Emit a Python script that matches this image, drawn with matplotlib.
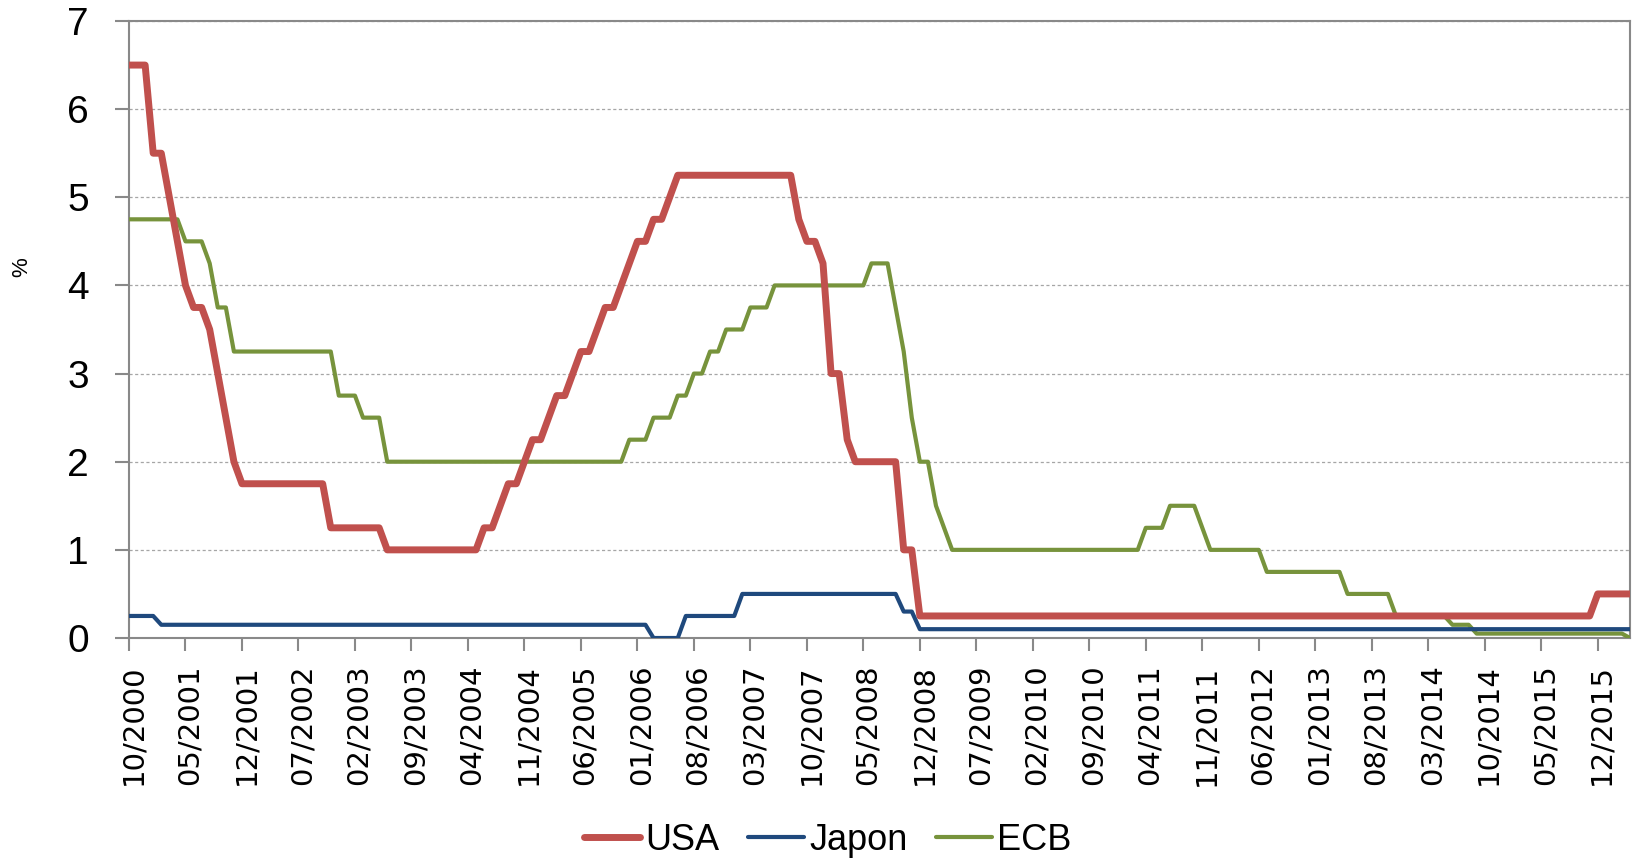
import numpy as np
import pandas as pd
import matplotlib
matplotlib.use('Agg')
import matplotlib.pyplot as plt
import matplotlib.transforms as mtransforms

# monthly policy rates, 10/2000 .. 04/2016 (end of month)
usa = [6.5, 6.5, 6.5,                                                   # 2000
       5.5, 5.5, 5.0, 4.5, 4.0, 3.75, 3.75, 3.5, 3.0, 2.5, 2.0, 1.75,   # 2001
       1.75, 1.75, 1.75, 1.75, 1.75, 1.75, 1.75, 1.75, 1.75, 1.75, 1.25, 1.25,  # 2002
       1.25, 1.25, 1.25, 1.25, 1.25, 1.0, 1.0, 1.0, 1.0, 1.0, 1.0, 1.0,  # 2003
       1.0, 1.0, 1.0, 1.0, 1.0, 1.25, 1.25, 1.5, 1.75, 1.75, 2.0, 2.25,  # 2004
       2.25, 2.5, 2.75, 2.75, 3.0, 3.25, 3.25, 3.5, 3.75, 3.75, 4.0, 4.25,  # 2005
       4.5, 4.5, 4.75, 4.75, 5.0, 5.25, 5.25, 5.25, 5.25, 5.25, 5.25, 5.25,  # 2006
       5.25, 5.25, 5.25, 5.25, 5.25, 5.25, 5.25, 5.25, 4.75, 4.5, 4.5, 4.25,  # 2007
       3.0, 3.0, 2.25, 2.0, 2.0, 2.0, 2.0, 2.0, 2.0, 1.0, 1.0, 0.25,    # 2008
       0.25, 0.25, 0.25, 0.25, 0.25, 0.25, 0.25, 0.25, 0.25, 0.25, 0.25, 0.25,  # 2009
       0.25, 0.25, 0.25, 0.25, 0.25, 0.25, 0.25, 0.25, 0.25, 0.25, 0.25, 0.25,  # 2010
       0.25, 0.25, 0.25, 0.25, 0.25, 0.25, 0.25, 0.25, 0.25, 0.25, 0.25, 0.25,  # 2011
       0.25, 0.25, 0.25, 0.25, 0.25, 0.25, 0.25, 0.25, 0.25, 0.25, 0.25, 0.25,  # 2012
       0.25, 0.25, 0.25, 0.25, 0.25, 0.25, 0.25, 0.25, 0.25, 0.25, 0.25, 0.25,  # 2013
       0.25, 0.25, 0.25, 0.25, 0.25, 0.25, 0.25, 0.25, 0.25, 0.25, 0.25, 0.25,  # 2014
       0.25, 0.25, 0.25, 0.25, 0.25, 0.25, 0.25, 0.25, 0.25, 0.25, 0.25, 0.5,   # 2015
       0.5, 0.5, 0.5, 0.5]                                              # 2016

japon = [0.25, 0.25, 0.25,
         0.25, 0.15, 0.15, 0.15, 0.15, 0.15, 0.15, 0.15, 0.15, 0.15, 0.15, 0.15,
         0.15, 0.15, 0.15, 0.15, 0.15, 0.15, 0.15, 0.15, 0.15, 0.15, 0.15, 0.15,
         0.15, 0.15, 0.15, 0.15, 0.15, 0.15, 0.15, 0.15, 0.15, 0.15, 0.15, 0.15,
         0.15, 0.15, 0.15, 0.15, 0.15, 0.15, 0.15, 0.15, 0.15, 0.15, 0.15, 0.15,
         0.15, 0.15, 0.15, 0.15, 0.15, 0.15, 0.15, 0.15, 0.15, 0.15, 0.15, 0.15,
         0.15, 0.15, 0.0, 0.0, 0.0, 0.0, 0.25, 0.25, 0.25, 0.25, 0.25, 0.25,
         0.25, 0.5, 0.5, 0.5, 0.5, 0.5, 0.5, 0.5, 0.5, 0.5, 0.5, 0.5,
         0.5, 0.5, 0.5, 0.5, 0.5, 0.5, 0.5, 0.5, 0.5, 0.3, 0.3, 0.1,
         0.1, 0.1, 0.1, 0.1, 0.1, 0.1, 0.1, 0.1, 0.1, 0.1, 0.1, 0.1,
         0.1, 0.1, 0.1, 0.1, 0.1, 0.1, 0.1, 0.1, 0.1, 0.1, 0.1, 0.1,
         0.1, 0.1, 0.1, 0.1, 0.1, 0.1, 0.1, 0.1, 0.1, 0.1, 0.1, 0.1,
         0.1, 0.1, 0.1, 0.1, 0.1, 0.1, 0.1, 0.1, 0.1, 0.1, 0.1, 0.1,
         0.1, 0.1, 0.1, 0.1, 0.1, 0.1, 0.1, 0.1, 0.1, 0.1, 0.1, 0.1,
         0.1, 0.1, 0.1, 0.1, 0.1, 0.1, 0.1, 0.1, 0.1, 0.1, 0.1, 0.1,
         0.1, 0.1, 0.1, 0.1, 0.1, 0.1, 0.1, 0.1, 0.1, 0.1, 0.1, 0.1,
         0.1, 0.1, 0.1, 0.1]

ecb = [4.75, 4.75, 4.75,
       4.75, 4.75, 4.75, 4.75, 4.5, 4.5, 4.5, 4.25, 3.75, 3.75, 3.25, 3.25,
       3.25, 3.25, 3.25, 3.25, 3.25, 3.25, 3.25, 3.25, 3.25, 3.25, 3.25, 2.75,
       2.75, 2.75, 2.5, 2.5, 2.5, 2.0, 2.0, 2.0, 2.0, 2.0, 2.0, 2.0,
       2.0, 2.0, 2.0, 2.0, 2.0, 2.0, 2.0, 2.0, 2.0, 2.0, 2.0, 2.0,
       2.0, 2.0, 2.0, 2.0, 2.0, 2.0, 2.0, 2.0, 2.0, 2.0, 2.0, 2.25,
       2.25, 2.25, 2.5, 2.5, 2.5, 2.75, 2.75, 3.0, 3.0, 3.25, 3.25, 3.5,
       3.5, 3.5, 3.75, 3.75, 3.75, 4.0, 4.0, 4.0, 4.0, 4.0, 4.0, 4.0,
       4.0, 4.0, 4.0, 4.0, 4.0, 4.25, 4.25, 4.25, 3.75, 3.25, 2.5, 2.0,
       2.0, 1.5, 1.25, 1.0, 1.0, 1.0, 1.0, 1.0, 1.0, 1.0, 1.0, 1.0,
       1.0, 1.0, 1.0, 1.0, 1.0, 1.0, 1.0, 1.0, 1.0, 1.0, 1.0, 1.0,
       1.0, 1.0, 1.0, 1.25, 1.25, 1.25, 1.5, 1.5, 1.5, 1.5, 1.25, 1.0,
       1.0, 1.0, 1.0, 1.0, 1.0, 1.0, 0.75, 0.75, 0.75, 0.75, 0.75, 0.75,
       0.75, 0.75, 0.75, 0.75, 0.5, 0.5, 0.5, 0.5, 0.5, 0.5, 0.25, 0.25,
       0.25, 0.25, 0.25, 0.25, 0.25, 0.15, 0.15, 0.15, 0.05, 0.05, 0.05, 0.05,
       0.05, 0.05, 0.05, 0.05, 0.05, 0.05, 0.05, 0.05, 0.05, 0.05, 0.05, 0.05,
       0.05, 0.05, 0.05, 0.0]

months = pd.period_range('2000-10', periods=len(usa), freq='M')
tick_step = 7
tick_labels = [p.strftime('%m/%Y') for p in months[::tick_step]]

plt.rcParams['font.family'] = ['Liberation Sans', 'DejaVu Sans']

W, H = 1635, 860
fig = plt.figure(figsize=(W / 100, H / 100), dpi=100)
ax = fig.add_axes([129 / W, 1 - 638 / H, (1630 - 129) / W, (638 - 21) / H])

x = np.arange(len(usa))
kw = dict(solid_capstyle='round', solid_joinstyle='round')
ax.plot(x, ecb, color='#77933C', lw=3.0, label='ECB', zorder=3, **kw)
ax.plot(x, japon, color='#1F497D', lw=3.0, label='Japon', zorder=4, **kw)
ax.plot(x, usa, color='#C0504D', lw=5.0, label='USA', zorder=5, **kw)

ax.set_xlim(0, len(usa) - 1)
ax.set_ylim(0, 7)
ax.set_yticks(range(0, 8))
ax.set_xticks(x[::tick_step])
ax.set_xticklabels(tick_labels, rotation=90, fontsize=21, fontfamily='DejaVu Sans')
for lab in ax.get_yticklabels():
    lab.set_fontsize(28)

axis_col = '#898989'
for s in ax.spines.values():
    s.set_color(axis_col)
    s.set_linewidth(1.5)
ax.tick_params(axis='y', length=10, width=1.5, color=axis_col, pad=19)
ax.tick_params(axis='x', length=9, width=1.5, color=axis_col, pad=10)
ax.grid(axis='y', color='#A6A6A6', lw=0.9, linestyle=(0, (2.5, 2)))
ax.set_axisbelow(True)

shift = mtransforms.ScaledTranslation(4 / 100, 0, fig.dpi_scale_trans)
for lab in ax.get_xticklabels():
    lab.set_transform(lab.get_transform() + shift)

fig.text(22 / W, 1 - 267 / H, '%', rotation=90, ha='center', va='center', fontsize=16)

h, l = ax.get_legend_handles_labels()
order = [2, 1, 0]
leg = fig.legend([h[i] for i in order], [l[i] for i in order], loc='center',
                 bbox_to_anchor=(828 / W, 1 - 840 / H), ncol=3, frameon=False,
                 prop={'size': 26}, handlelength=1.55,
                 handletextpad=0.15, columnspacing=0.78, borderpad=0)

fig.savefig('out.png', dpi=100)
